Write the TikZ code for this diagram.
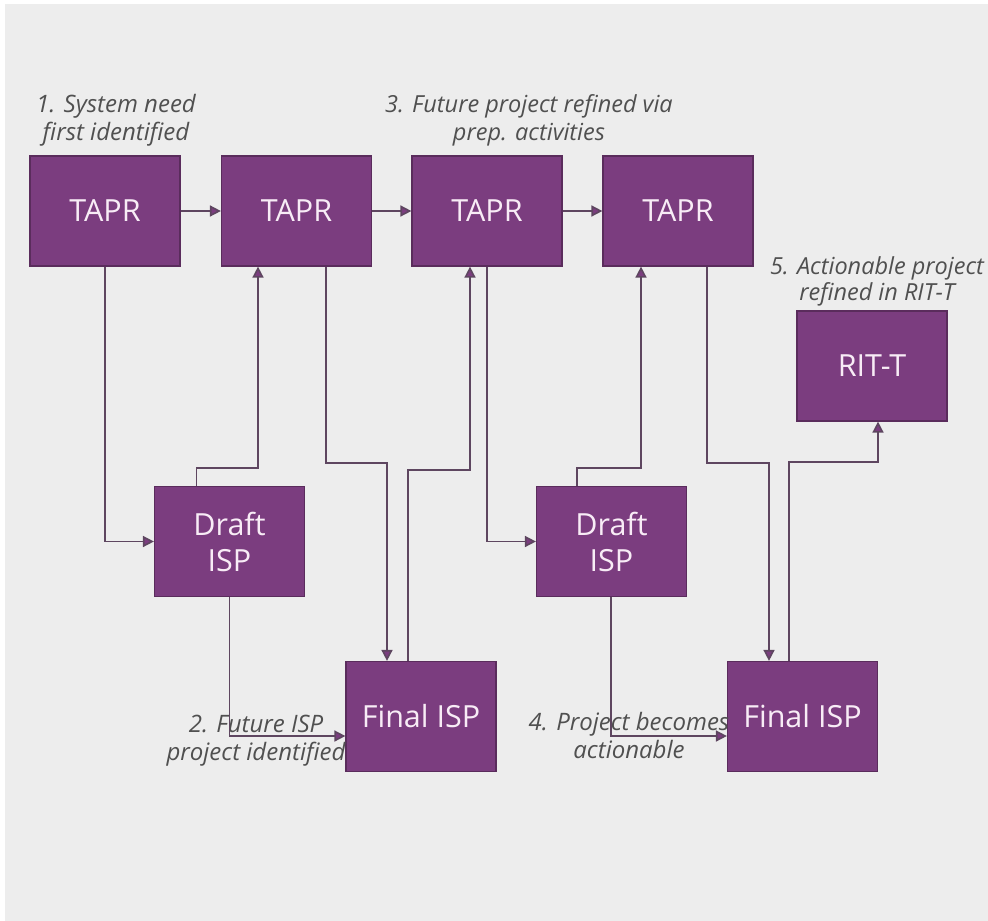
\documentclass[tikz,border=0pt]{standalone}
\usepackage{fontspec}
\setmainfont{Open Sans}
\usetikzlibrary{arrows.meta,calc}
\definecolor{bg}{HTML}{EDEDED}
\definecolor{boxfill}{HTML}{7B3D7F}
\definecolor{boxedge}{HTML}{5A2C5C}
\definecolor{boxtext}{HTML}{F8ECF6}
\definecolor{linec}{HTML}{5E4660}
\definecolor{labc}{HTML}{505050}
\tikzset{
  pbox/.style={rectangle, fill=boxfill, draw=boxedge, line width=1.2pt,
    minimum width=150pt, minimum height=110pt, inner sep=0pt,
    text=boxtext, font=\fontsize{30.5}{36}\selectfont, align=center},
  conn/.style={draw=linec, line width=1.6pt,
    -{Triangle[length=11pt,width=11pt,fill=boxfill]}},
  lab/.style={text=labc, font=\fontsize{24}{28}\selectfont\itshape, align=center, inner sep=0pt}
}
\begin{document}
\begin{tikzpicture}[x=1pt,y=-1pt]
\useasboundingbox (0,0) rectangle (988,921);
\fill[white] (0,0) rectangle (988,921);
\fill[bg] (5,4) rectangle (988,921);
% boxes
\node[pbox] (t1) at (105,211) {TAPR};
\node[pbox] (t2) at (296.5,211) {TAPR};
\node[pbox] (t3) at (487,211) {TAPR};
\node[pbox] (t4) at (678,211) {TAPR};
\node[pbox] (rit) at (872,366) {RIT-T};
\node[pbox] (d1) at (229.5,541.5) {Draft\\ISP};
\node[pbox] (f1) at (421,716.5) {Final ISP};
\node[pbox] (d2) at (611.5,541.5) {Draft\\ISP};
\node[pbox] (f2) at (802.5,716.5) {Final ISP};
% labels
\node[lab] (l1) at (116,120) {1. System need\\first identified};
\node[lab, font=\fontsize{23.5}{28}\selectfont\itshape] (l3) at (529,120) {3. Future project refined via\\prep. activities};
\node[lab, font=\fontsize{23.5}{26}\selectfont\itshape] (l5) at (877,281) {5. Actionable project\\refined in RIT-T};
\node[lab] (l2) at (256,740.5) {2. Future ISP\\project identified};
\node[lab] (l4) at (629,735.5) {4. Project becomes\\actionable};
% horizontal TAPR chain
\draw[conn] (t1.east) -- (t2.west);
\draw[conn] (t2.east) -- (t3.west);
\draw[conn] (t3.east) -- (t4.west);
% TAPR -> Draft
\draw[conn] (t1.south) |- (d1.west);
\draw[conn] (t3.south) |- (d2.west);
% Draft -> TAPR (upward)
\draw[conn] ([xshift=-33pt]d1.north) |- ([xshift=-38.5pt]t2.south |- 0,468) -- ([xshift=-38.5pt]t2.south);
\draw[conn] ([xshift=-34.5pt]d2.north) |- ([xshift=-37pt]t4.south |- 0,468) -- ([xshift=-37pt]t4.south);
% TAPR -> Final (downward)
\draw[conn] ([xshift=29.5pt]t2.south) |- ([xshift=-34pt]f1.north |- 0,463) -- ([xshift=-34pt]f1.north);
\draw[conn] ([xshift=29pt]t4.south) |- ([xshift=-33.5pt]f2.north |- 0,463) -- ([xshift=-33.5pt]f2.north);
% Draft -> Final
\draw[conn] (d1.south) |- ([yshift=-19.5pt]f1.west);
\draw[conn] ([xshift=-0.5pt]d2.south) |- ([yshift=-19.5pt]f2.west);
% Final -> TAPR / RIT-T (upward)
\draw[conn] ([xshift=-13pt]f1.north) |- ([xshift=-17pt]t3.south |- 0,470) -- ([xshift=-17pt]t3.south);
\draw[conn] ([xshift=-13.5pt]f2.north) |- ([xshift=6pt]rit.south |- 0,462) -- ([xshift=6pt]rit.south);
\end{tikzpicture}
\end{document}
